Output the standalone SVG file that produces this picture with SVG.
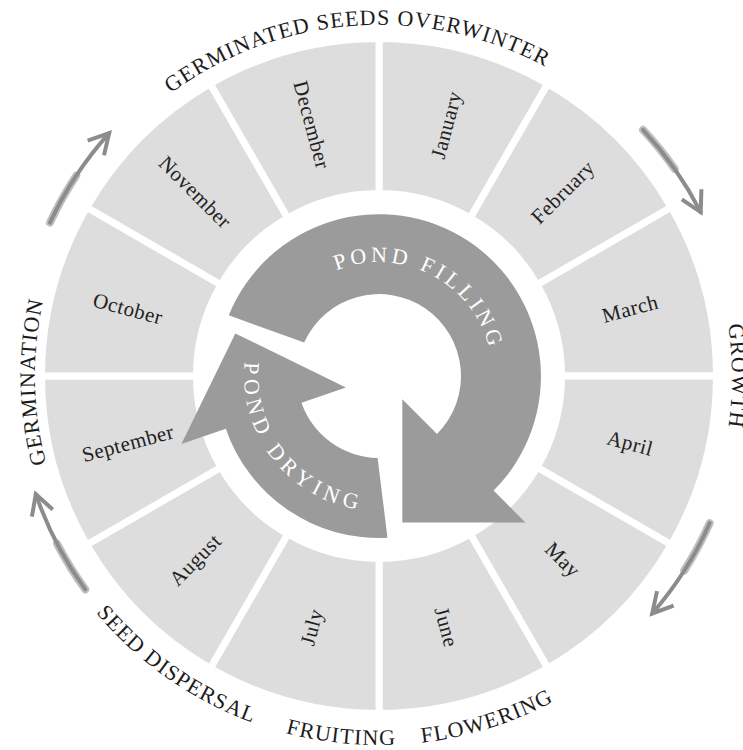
<svg xmlns="http://www.w3.org/2000/svg" width="743" height="750" viewBox="0 0 743 750">
<style>
.wedge{fill:#dddddd;stroke:#ffffff;stroke-width:7;stroke-linejoin:miter}
.month{font-family:"Liberation Serif","Times New Roman",serif;font-size:21px;fill:#222222;text-anchor:middle;letter-spacing:0.5px}
.stage{font-family:"Liberation Serif","Times New Roman",serif;font-size:22px;fill:#1c1c1c;letter-spacing:1.15px;text-anchor:middle}
.pond{fill:#9b9b9b}
.pondtxt{font-family:"Liberation Serif","Times New Roman",serif;font-size:22px;fill:#ffffff;text-anchor:middle}
.sketch{fill:none;stroke:#8c8c8c;stroke-width:4;stroke-linecap:round}
.brush{fill:none;stroke:#8c8c8c;stroke-width:8;stroke-opacity:0.55;stroke-linecap:round}
</style>
<defs>
<marker id="vhead" markerUnits="userSpaceOnUse" viewBox="-24 -14 30 28" refX="0" refY="0" markerWidth="30" markerHeight="28" orient="auto">
<path d="M-20,-11 L0,0 L-20,11" fill="none" stroke="#8c8c8c" stroke-width="4" stroke-linejoin="miter"/>
</marker>
<path id="p-top" d="M28.05,369.9 A351,351 0 0 1 725.7,321.1"/>
<path id="p-growth" d="M555.5,70.3 A353,353 0 0 1 555.5,681.7"/>
<path id="p-germ" d="M212.2,676.9 A344,344 0 0 1 201.8,81.1"/>
<path id="p-seed" d="M11.4,343.8 A369,369 0 0 0 534.9,710.4"/>
<path id="p-fruit" d="M41.9,526.1 A369,369 0 0 0 677.5,592.9"/>
<path id="p-flower" d="M129.7,648.1 A369,369 0 0 0 739.3,455.9"/>
<path id="p-fill" d="M282.9,314.7 A114,114 0 0 1 484.3,419.6"/>
<path id="p-dry" d="M286.1,278.1 A135,135 0 0 0 453.5,488.6"/>
</defs>
<rect width="743" height="750" fill="#ffffff"/>

<g id="month-january"><path class="wedge" d="M379,38.5 A337.5,337.5 0 0 1 547.75,83.72 L470.25,217.95 A182.5,182.5 0 0 0 379,193.5 Z"/><text class="month" transform="translate(446.3,124.9) rotate(-75)" y="7">January</text></g>
<g id="month-february"><path class="wedge" d="M547.75,83.72 A337.5,337.5 0 0 1 671.28,207.25 L537.05,284.75 A182.5,182.5 0 0 0 470.25,217.95 Z"/><text class="month" transform="translate(562.8,192.2) rotate(-45)" y="7">February</text></g>
<g id="month-march"><path class="wedge" d="M671.28,207.25 A337.5,337.5 0 0 1 716.5,376 L561.5,376 A182.5,182.5 0 0 0 537.05,284.75 Z"/><text class="month" transform="translate(630.1,308.7) rotate(-15)" y="7">March</text></g>
<g id="month-april"><path class="wedge" d="M716.5,376 A337.5,337.5 0 0 1 671.28,544.75 L537.05,467.25 A182.5,182.5 0 0 0 561.5,376 Z"/><text class="month" transform="translate(630.1,443.3) rotate(15)" y="7">April</text></g>
<g id="month-may"><path class="wedge" d="M671.28,544.75 A337.5,337.5 0 0 1 547.75,668.28 L470.25,534.05 A182.5,182.5 0 0 0 537.05,467.25 Z"/><text class="month" transform="translate(562.8,559.8) rotate(45)" y="7">May</text></g>
<g id="month-june"><path class="wedge" d="M547.75,668.28 A337.5,337.5 0 0 1 379,713.5 L379,558.5 A182.5,182.5 0 0 0 470.25,534.05 Z"/><text class="month" transform="translate(446.3,627.1) rotate(75)" y="7">June</text></g>
<g id="month-july"><path class="wedge" d="M379,713.5 A337.5,337.5 0 0 1 210.25,668.28 L287.75,534.05 A182.5,182.5 0 0 0 379,558.5 Z"/><text class="month" transform="translate(311.7,627.1) rotate(-75)" y="7">July</text></g>
<g id="month-august"><path class="wedge" d="M210.25,668.28 A337.5,337.5 0 0 1 86.72,544.75 L220.95,467.25 A182.5,182.5 0 0 0 287.75,534.05 Z"/><text class="month" transform="translate(195.2,559.8) rotate(-45)" y="7">August</text></g>
<g id="month-september"><path class="wedge" d="M86.72,544.75 A337.5,337.5 0 0 1 41.5,376 L196.5,376 A182.5,182.5 0 0 0 220.95,467.25 Z"/><text class="month" transform="translate(127.9,443.3) rotate(-15)" y="7">September</text></g>
<g id="month-october"><path class="wedge" d="M41.5,376 A337.5,337.5 0 0 1 86.72,207.25 L220.95,284.75 A182.5,182.5 0 0 0 196.5,376 Z"/><text class="month" transform="translate(127.9,308.7) rotate(15)" y="7">October</text></g>
<g id="month-november"><path class="wedge" d="M86.72,207.25 A337.5,337.5 0 0 1 210.25,83.72 L287.75,217.95 A182.5,182.5 0 0 0 220.95,284.75 Z"/><text class="month" transform="translate(195.2,192.2) rotate(45)" y="7">November</text></g>
<g id="month-december"><path class="wedge" d="M210.25,83.72 A337.5,337.5 0 0 1 379,38.5 L379,193.5 A182.5,182.5 0 0 0 287.75,217.95 Z"/><text class="month" transform="translate(311.7,124.9) rotate(75)" y="7">December</text></g>

<g id="pond-filling">
<path class="pond" d="M228.8,315.3 A162,162 0 1 1 493.6,490.6 L525.4,522.4 L402.3,522.4 L402.3,399.3 L437,434 A82,82 0 1 0 304.1,342.6 Z"/>
<text class="pondtxt" letter-spacing="3.8"><textPath href="#p-fill" startOffset="50%">POND FILLING</textPath></text>
</g>
<g id="pond-drying">
<path class="pond" d="M387.5,537.8 A162,162 0 0 1 225.8,428.7 L181.4,444 L235.3,333.4 L345.9,387.4 L301.5,402.7 A82,82 0 0 0 377.6,458 Z"/>
<text class="pondtxt" letter-spacing="5.4"><textPath href="#p-dry" startOffset="50%">POND DRYING</textPath></text>
</g>

<g id="stage-overwinter"><text class="stage"><textPath href="#p-top" startOffset="50%">GERMINATED SEEDS OVERWINTER</textPath></text></g>
<g id="stage-growth"><text class="stage"><textPath href="#p-growth" startOffset="50%">GROWTH</textPath></text></g>
<g id="stage-germination"><text class="stage"><textPath href="#p-germ" startOffset="50%">GERMINATION</textPath></text></g>
<g id="stage-seed-dispersal"><text class="stage"><textPath href="#p-seed" startOffset="50%">SEED DISPERSAL</textPath></text></g>
<g id="stage-fruiting"><text class="stage"><textPath href="#p-fruit" startOffset="50%">FRUITING</textPath></text></g>
<g id="stage-flowering"><text class="stage"><textPath href="#p-flower" startOffset="50%">FLOWERING</textPath></text></g>

<g id="connectors">
<path class="brush" d="M50,222.6 A363,363 0 0 1 76.3,175.6"/>
<path class="sketch" d="M50,222.6 A363,363 0 0 1 109.2,133.1" marker-end="url(#vhead)"/>
<path class="brush" d="M643,129.8 A361,361 0 0 1 674.7,168.9"/>
<path class="sketch" d="M643,129.8 A361,361 0 0 1 700.7,212.1" marker-end="url(#vhead)"/>
<path class="brush" d="M709.7,523.2 A362,362 0 0 1 684.3,570.5"/>
<path class="sketch" d="M709.7,523.2 A362,362 0 0 1 652.2,613.5" marker-end="url(#vhead)"/>
<path class="brush" d="M85.3,589.4 A363,363 0 0 1 57,543.6"/>
<path class="sketch" d="M85.3,589.4 A363,363 0 0 1 35.8,494.2" marker-end="url(#vhead)"/>
</g>
</svg>
